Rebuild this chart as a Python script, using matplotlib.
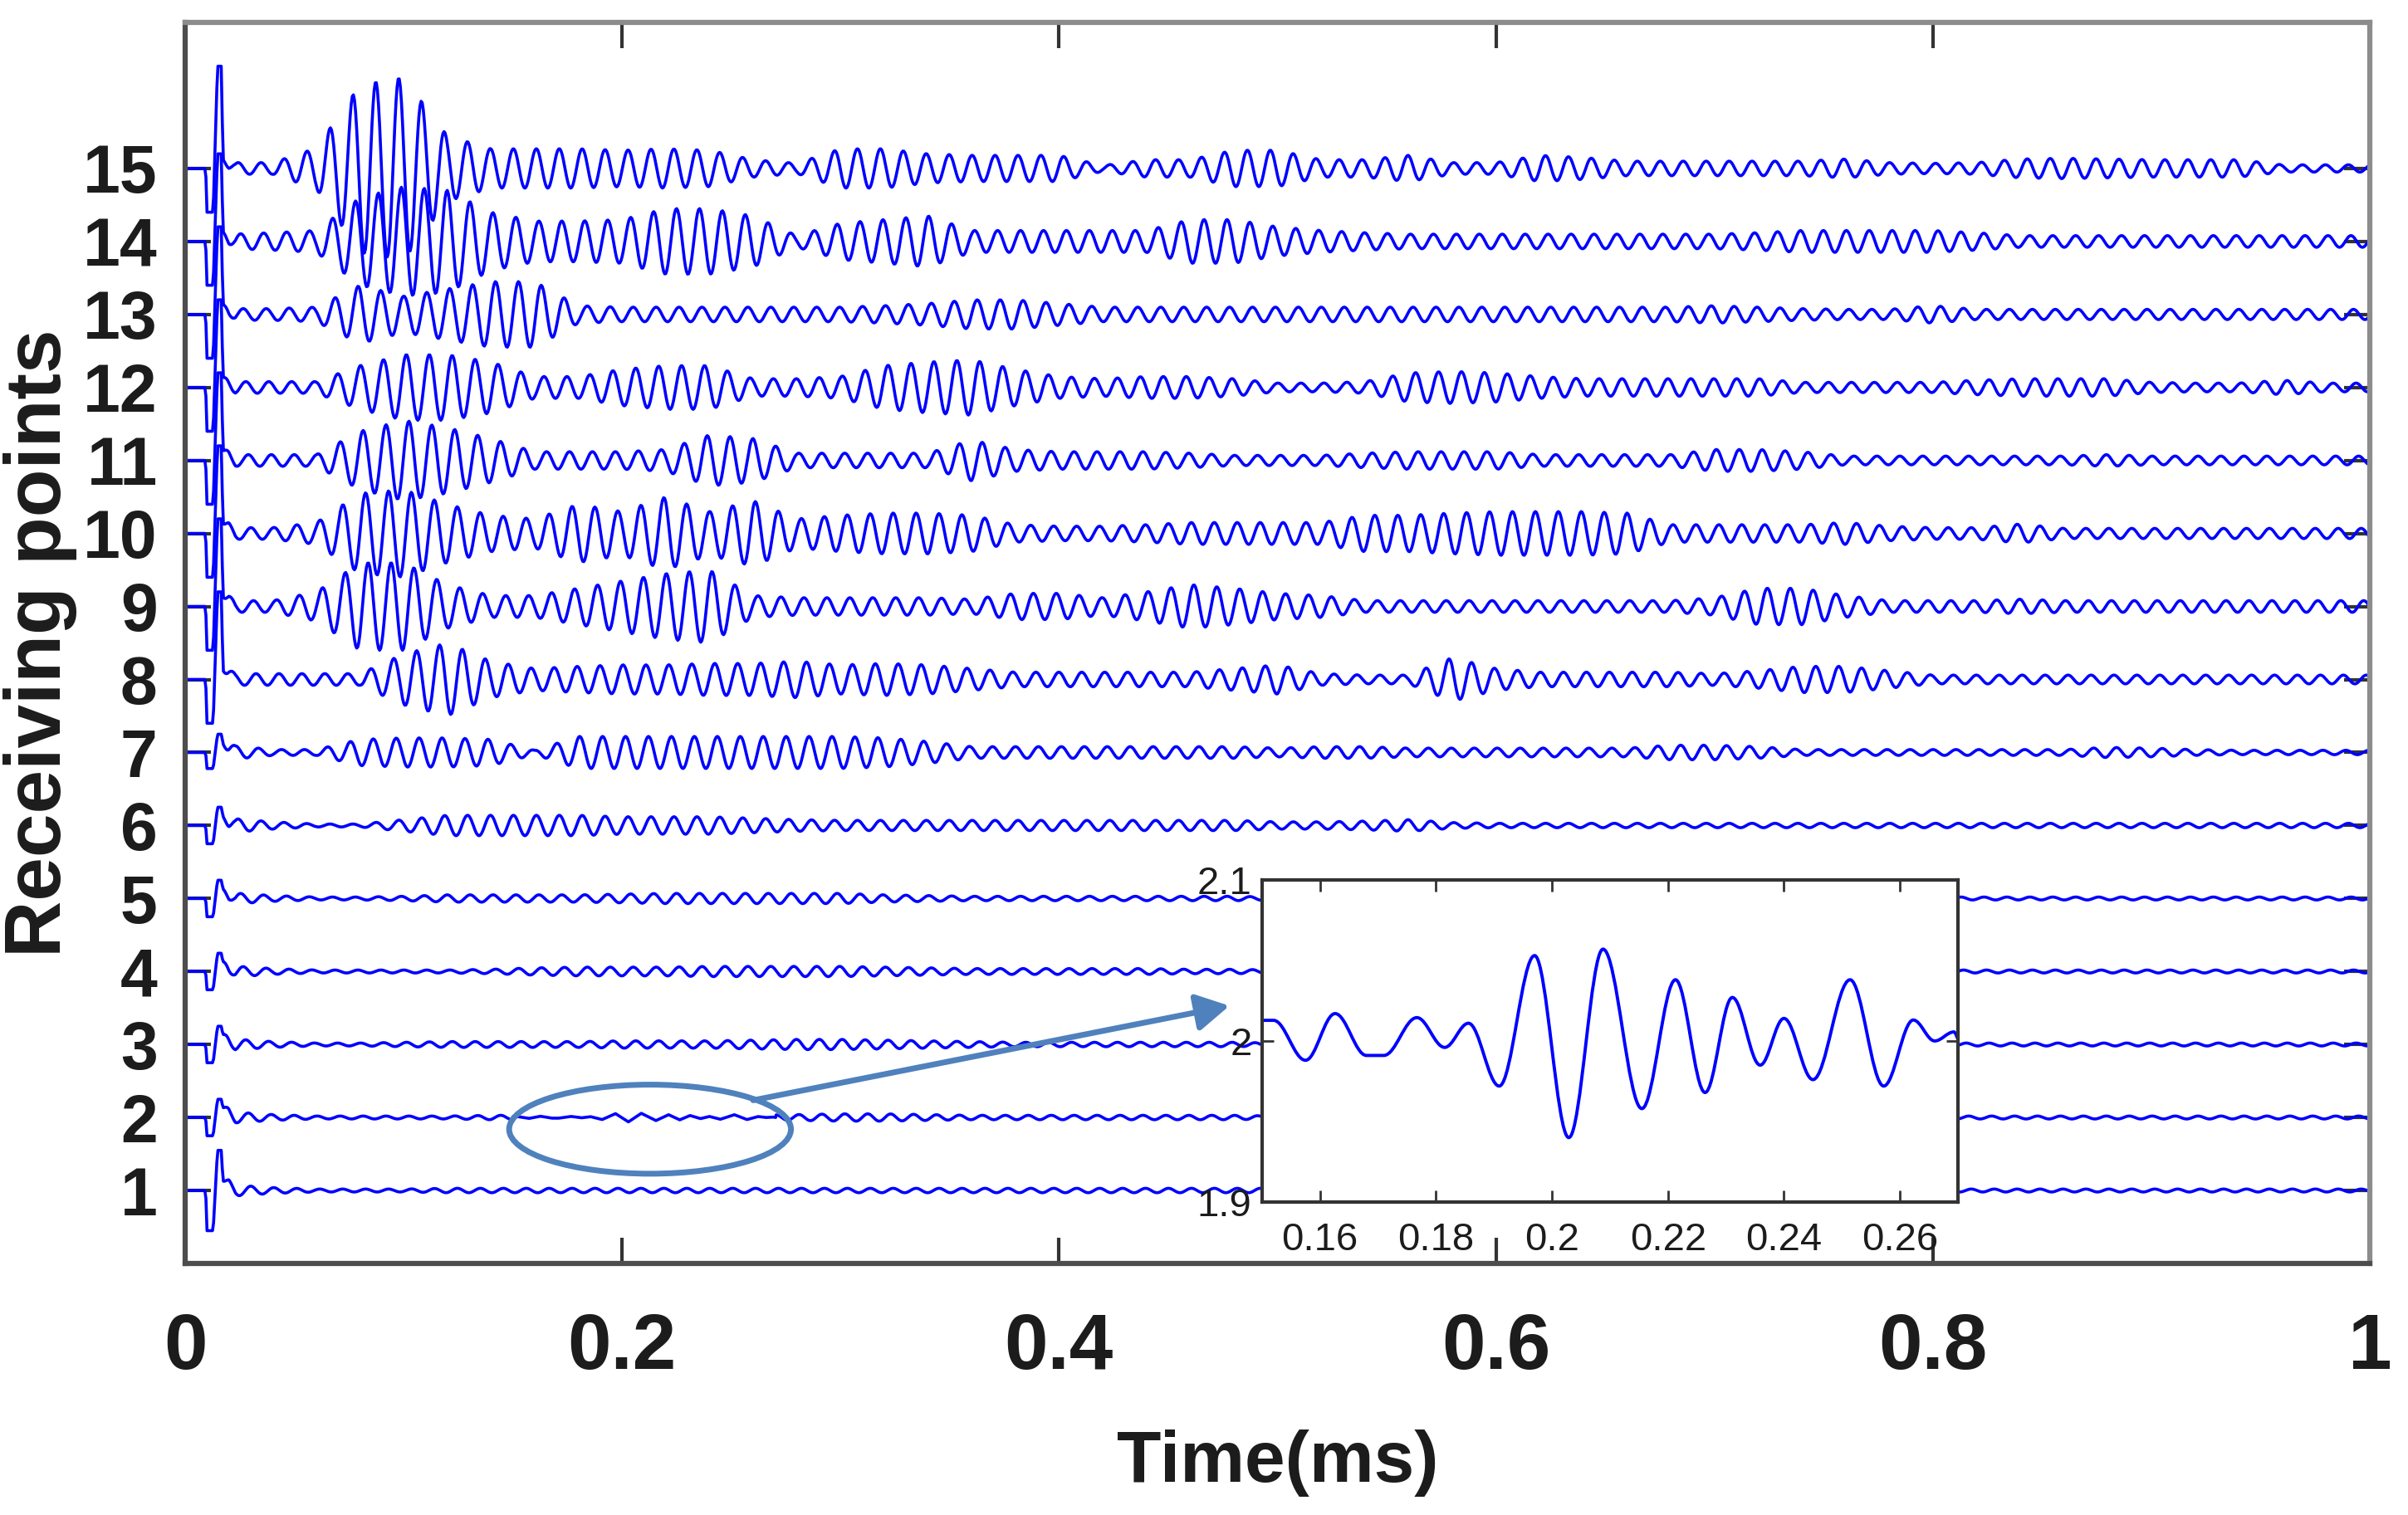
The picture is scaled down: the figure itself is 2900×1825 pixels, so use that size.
import numpy as np
import matplotlib
matplotlib.use("Agg")
import matplotlib.pyplot as plt
from matplotlib.patches import Ellipse, PathPatch
from matplotlib.path import Path

plt.rcParams["font.family"] = ["Liberation Sans", "DejaVu Sans"]

# ---------------------------------------------------------------------
# Data
# ---------------------------------------------------------------------
TRACE_IDS = list(range(1, 16))
TIME_TICKS = [0, 0.2, 0.4, 0.6, 0.8, 1.0]
TIME_TICK_LABELS = ["0", "0.2", "0.4", "0.6", "0.8", "1"]

# first-arrival pulse per receiving point (down swing, up swing)
PULSE_DOWN = [0.55, 0.25, 0.25, 0.25, 0.25, 0.25, 0.22, 0.6, 0.6, 0.6, 0.6, 0.6, 0.6, 0.6, 0.6]
PULSE_UP = [0.55, 0.25, 0.25, 0.25, 0.25, 0.25, 0.25, 1.2, 1.2, 1.2, 1.2, 1.2, 1.2, 1.2, 1.4]
PULSE_T = [0, 0.0094, 0.0099, 0.0128, 0.0148, 0.0167, 0.0172, 0.0230]

# wave envelope (x0.01) at t = 0.02, 0.04, ..., 1.00 ms
ENV_T = np.round(np.arange(1, 51) * 0.02, 2)
ENV_01 = [8, 4, 2, 2, 2, 3, 3, 3, 3, 3, 3, 3, 3, 3, 3, 3, 3, 3, 3, 3, 3, 3, 3, 3, 3,
          2, 2, 2, 2, 2, 2, 2, 2, 2, 2, 2, 2, 2, 2, 2, 2, 2, 2, 2, 2, 2, 2, 2, 2, 2]
ENV_02 = [8, 4, 2, 2, 2, 2, 3, 3, 3, 5, 4, 3, 3, 4, 5, 5, 4, 3, 3, 3, 3, 3, 3, 3, 2,
          2, 2, 2, 2, 2, 2, 2, 2, 2, 2, 2, 2, 2, 2, 2, 2, 2, 2, 2, 2, 2, 2, 2, 2, 2]
ENV_03 = [8, 4, 2, 2, 3, 4, 4, 4, 4, 5, 5, 5, 6, 7, 7, 6, 5, 4, 3, 3, 3, 3, 3, 3, 2,
          2, 2, 2, 2, 2, 2, 2, 2, 2, 2, 2, 2, 2, 2, 2, 2, 2, 2, 2, 2, 2, 2, 2, 2, 2]
ENV_04 = [8, 4, 2, 2, 2, 2, 3, 5, 6, 6, 6, 7, 7, 7, 7, 6, 5, 4, 4, 4, 4, 4, 3, 3, 2,
          2, 2, 2, 2, 2, 2, 2, 2, 2, 2, 2, 2, 2, 2, 2, 2, 2, 2, 2, 2, 2, 2, 2, 2, 2]
ENV_05 = [8, 4, 2, 2, 3, 5, 5, 5, 5, 6, 7, 7, 7, 7, 7, 5, 4, 3, 3, 3, 3, 3, 3, 3, 2,
          2, 2, 2, 2, 2, 2, 2, 2, 2, 2, 2, 2, 2, 2, 2, 2, 2, 2, 2, 2, 2, 2, 2, 2, 2]
ENV_06 = [10, 5, 2, 2, 8, 14, 14, 14, 14, 12, 12, 12, 10, 8, 7, 7, 7, 7, 7, 7, 7, 7, 7, 7, 5,
          5, 6, 8, 4, 3, 3, 3, 3, 3, 3, 3, 3, 3, 3, 3, 3, 3, 3, 3, 3, 3, 3, 3, 3, 3]
ENV_07 = [10, 4, 4, 18, 20, 20, 18, 3, 22, 22, 22, 22, 22, 22, 22, 20, 15, 8, 8, 8, 8, 8, 8, 8, 6,
          8, 8, 6, 6, 6, 6, 6, 6, 10, 10, 8, 4, 4, 4, 4, 4, 4, 4, 7, 6, 4, 3, 3, 3, 3]
ENV_08 = [8, 8, 8, 8, 35, 50, 25, 15, 18, 20, 20, 22, 22, 25, 20, 22, 20, 15, 10, 10, 10, 10, 10, 15, 20,
          8, 6, 6, 30, 15, 10, 10, 10, 10, 8, 12, 18, 18, 12, 6, 6, 6, 6, 6, 6, 6, 6, 6, 6, 6]
ENV_09 = [8, 8, 20, 60, 60, 30, 15, 15, 25, 35, 45, 50, 15, 12, 12, 12, 12, 10, 18, 18, 12, 20, 30, 25, 18,
          15, 8, 8, 8, 8, 8, 8, 8, 8, 12, 25, 25, 15, 8, 8, 8, 10, 8, 8, 8, 8, 8, 8, 8, 8]
ENV_10 = [8, 8, 15, 55, 60, 40, 25, 20, 40, 30, 50, 30, 45, 20, 25, 28, 28, 25, 12, 10, 10, 12, 15, 15, 15,
          15, 25, 25, 28, 30, 30, 30, 28, 12, 12, 12, 12, 15, 10, 8, 8, 13, 7, 7, 7, 7, 7, 7, 7, 7]
ENV_11 = [8, 8, 8, 40, 55, 45, 30, 12, 12, 12, 15, 35, 30, 10, 10, 10, 10, 28, 15, 12, 12, 12, 10, 7, 7,
          7, 10, 12, 12, 12, 8, 8, 8, 8, 15, 15, 12, 6, 6, 6, 6, 6, 6, 8, 6, 6, 6, 6, 6, 6]
ENV_12 = [8, 8, 8, 30, 45, 45, 35, 15, 15, 25, 30, 30, 12, 12, 15, 30, 35, 38, 25, 15, 12, 15, 15, 12, 6,
          6, 8, 20, 22, 20, 15, 12, 12, 12, 12, 12, 7, 7, 7, 7, 10, 12, 12, 12, 7, 6, 6, 10, 6, 6]
ENV_13 = [8, 8, 10, 40, 25, 35, 45, 45, 12, 10, 10, 10, 10, 10, 10, 12, 15, 20, 20, 15, 10, 10, 10, 10, 10,
          10, 10, 10, 10, 10, 10, 10, 10, 10, 12, 10, 8, 7, 7, 12, 7, 7, 7, 7, 7, 7, 7, 7, 7, 7]
ENV_14 = [10, 12, 15, 60, 75, 70, 40, 28, 28, 30, 45, 45, 35, 8, 25, 30, 35, 15, 15, 15, 15, 15, 30, 30, 20,
          15, 12, 10, 10, 10, 10, 10, 10, 10, 10, 12, 15, 15, 15, 15, 12, 8, 8, 8, 8, 8, 8, 8, 8, 8]
ENV_15 = [8, 8, 28, 115, 125, 45, 27, 27, 27, 25, 27, 25, 12, 7, 27, 27, 20, 18, 18, 18, 4, 12, 12, 25, 25,
          12, 12, 18, 8, 8, 18, 15, 10, 10, 10, 10, 10, 13, 8, 7, 8, 13, 14, 13, 12, 12, 12, 5, 5, 5]
ENVELOPES = [ENV_01, ENV_02, ENV_03, ENV_04, ENV_05, ENV_06, ENV_07, ENV_08,
             ENV_09, ENV_10, ENV_11, ENV_12, ENV_13, ENV_14, ENV_15]
WAVE_PERIOD = 0.0105  # ms, dominant period of the ringing

# zoomed detail of receiving point 2 (inset), extrema
INSET_T = [0.1501, 0.1520, 0.1575, 0.1626, 0.1680, 0.1710, 0.1767, 0.1815, 0.1856, 0.1909, 0.1970,
           0.2029, 0.2088, 0.2155, 0.2213, 0.2264, 0.2311, 0.2359, 0.2400, 0.2450, 0.2514, 0.2572,
           0.2623, 0.2660, 0.2693, 0.2703]
INSET_V = [2.0128, 2.0128, 1.9880, 2.0170, 1.9910, 1.9910, 2.0145, 1.9960, 2.0110, 1.9720, 2.0530,
           1.9400, 2.0570, 1.9580, 2.0380, 1.9680, 2.0270, 1.9850, 2.0140, 1.9760, 2.0380, 1.9720,
           2.0130, 2.0000, 2.0056, 2.0000]
INSET_XTICKS = [0.16, 0.18, 0.2, 0.22, 0.24, 0.26]
INSET_XLABELS = ["0.16", "0.18", "0.2", "0.22", "0.24", "0.26"]
INSET_YTICKS = [1.9, 2.0, 2.1]
INSET_YLABELS = ["1.9", "2", "2.1"]

# highlight marks (ellipse round the zoomed window, arrow to the inset)
HIGHLIGHT_CENTER = (0.2128, 1.84)
HIGHLIGHT_SIZE = (0.129, 1.22)
ARROW_FROM = (0.26, 2.236)
ARROW_TO = (0.478, 3.53)

# ---------------------------------------------------------------------
# Build traces
# ---------------------------------------------------------------------
t = np.arange(0, 1.00001, 0.0005)
env_t = np.concatenate([[0.017], ENV_T])


def build_trace(idx):
    d, u = PULSE_DOWN[idx], PULSE_UP[idx]
    pulse = np.interp(t, PULSE_T, [0, 0, -d, -d, u, u, 0.13, 0])
    env = np.interp(t, env_t, np.concatenate([[0], np.array(ENVELOPES[idx]) / 100]), left=0)
    ring = env * np.sin(2 * np.pi * (t - 0.017) / WAVE_PERIOD + 0.7 * idx)
    return TRACE_IDS[idx] + pulse + ring


def rounded_path(xs, ys, k=0.36):
    # cubic segments between successive extrema, flat tangent at each extremum
    verts = [(xs[0], ys[0])]
    codes = [Path.MOVETO]
    for x0, y0, x1, y1 in zip(xs[:-1], ys[:-1], xs[1:], ys[1:]):
        dx = x1 - x0
        verts += [(x0 + k * dx, y0), (x1 - k * dx, y1), (x1, y1)]
        codes += [Path.CURVE4] * 3
    return Path(verts, codes)


# ---------------------------------------------------------------------
# Plot
# ---------------------------------------------------------------------
fig = plt.figure(figsize=(29, 18.25), dpi=100)
ax = fig.add_axes([0.0769, 0.1660, 0.9072, 0.8192])

for i in range(len(TRACE_IDS)):
    y = build_trace(i)
    if TRACE_IDS[i] == 2:
        before = t < INSET_T[0]
        after = t > INSET_T[-1]
        tt = np.concatenate([t[before], INSET_T, t[after]])
        y = np.concatenate([y[before], INSET_V, y[after]])
    else:
        tt = t
    ax.plot(tt, y, color="#0000ff", linewidth=2.6, zorder=2)

ax.set_xlim(0, 1)
ax.set_ylim(0, 17)
ax.set_xticks(TIME_TICKS)
ax.set_xticklabels(TIME_TICK_LABELS, fontsize=68, fontweight="bold")
ax.set_yticks(TRACE_IDS)
ax.set_yticklabels([str(v) for v in TRACE_IDS], fontsize=58, fontweight="bold")
ax.tick_params(axis="both", direction="in", length=22, width=3, color="#333333",
               labelcolor="#1c1c1c", top=True, right=True)
ax.tick_params(axis="x", pad=42)
ax.tick_params(axis="y", pad=24)
for side in ["left", "bottom"]:
    ax.spines[side].set_color("#4d4d4d")
    ax.spines[side].set_linewidth(4.5)
for side in ["top", "right"]:
    ax.spines[side].set_color("#8c8c8c")
    ax.spines[side].set_linewidth(4.5)

ax.set_xlabel("Time(ms)", fontsize=63, fontweight="bold", color="#1c1c1c")
ax.xaxis.set_label_coords(0.5, -0.176)
ax.xaxis.label.set_va("baseline")
ax.set_ylabel("Receiving points", fontsize=68, fontweight="bold", color="#1c1c1c")
ax.yaxis.set_label_coords(-0.0665, 0.5)
ax.yaxis.label.set_va("center")

# ellipse + arrow highlighting the zoomed window
ax.add_patch(Ellipse(HIGHLIGHT_CENTER, *HIGHLIGHT_SIZE, fill=False, edgecolor="#4f81bd",
                     linewidth=5, zorder=4))
ax.annotate("", xy=ARROW_TO, xytext=ARROW_FROM,
            arrowprops=dict(arrowstyle="-|>,head_length=0.8,head_width=0.45",
                            color="#4f81bd", lw=5, mutation_scale=30,
                            shrinkA=0, shrinkB=0), zorder=4)

# inset
axin = fig.add_axes([0.5241, 0.2066, 0.2890, 0.2126])
axin.add_patch(PathPatch(rounded_path(INSET_T, INSET_V), fill=False,
                         edgecolor="#0000ff", linewidth=2.8))
axin.set_xlim(0.15, 0.27)
axin.set_ylim(1.9, 2.1)
axin.set_xticks(INSET_XTICKS)
axin.set_xticklabels(INSET_XLABELS, fontsize=34)
axin.set_yticks(INSET_YTICKS)
axin.set_yticklabels(INSET_YLABELS, fontsize=34)
axin.tick_params(axis="both", direction="in", length=10, width=2, color="#333333",
                 labelcolor="#1c1c1c", top=True, right=True)
axin.tick_params(axis="x", pad=17)
axin.tick_params(axis="y", pad=9)
for side in axin.spines.values():
    side.set_color("#333333")
    side.set_linewidth(3)

fig.savefig("out.png", dpi=100)
